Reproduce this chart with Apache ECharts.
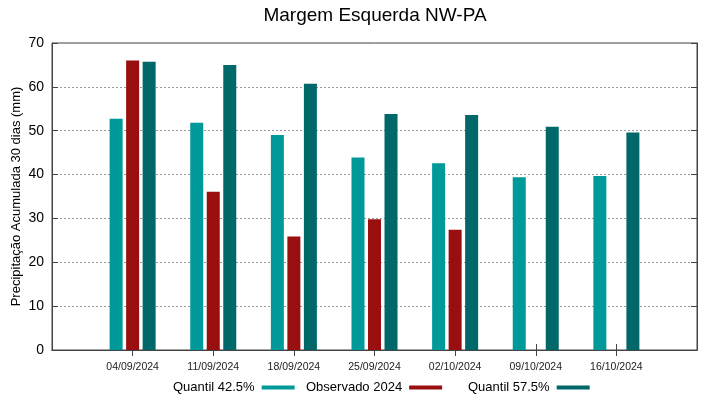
<!DOCTYPE html>
<html>
<head>
<meta charset="utf-8">
<script src="https://cdn.jsdelivr.net/npm/echarts@6/dist/echarts.min.js"></script>
<style>html,body{margin:0;padding:0;background:#fff}#c{width:719px;height:399px}</style>
</head>
<body>
<div id="c"></div>
<script>
const categories = ['', '04/09/2024', '11/09/2024', '18/09/2024', '25/09/2024', '02/10/2024', '09/10/2024', '16/10/2024', ''];
const quantil425 = [null, 52.7, 51.8, 49.0, 43.9, 42.6, 39.4, 39.7, null];
const observado2024 = [null, 66.0, 36.1, 25.9, 29.8, 27.4, null, null, null];
const quantil575 = [null, 65.7, 65.0, 60.7, 53.8, 53.6, 50.9, 49.6, null];
const yTicks = [0, 10, 20, 30, 40, 50, 60, 70];

const font = 'Liberation Sans, Arial, sans-serif';
const chart = echarts.init(document.getElementById('c'), null, {renderer: 'canvas'});
const legendBase = {
  top: 381, align: 'right', itemWidth: 33, itemHeight: 4, icon: 'rect',
  textStyle: {fontFamily: font, fontSize: 13, color: '#000', padding: [0, 2, 0, 0]},
  itemGap: 0, padding: 0, selectedMode: false
};
const showMid = function (i) { return i > 0 && i < categories.length - 1; };
chart.setOption({
  animation: false,
  title: {
    text: 'Margem Esquerda NW-PA', left: 370, top: 1, textAlign: 'center',
    textStyle: {fontFamily: font, fontSize: 19, fontWeight: 'normal', color: '#000'}
  },
  legend: [
    Object.assign({}, legendBase, {left: 173, data: ['Quantil 42.5%']}),
    Object.assign({}, legendBase, {left: 306, data: ['Observado 2024']}),
    Object.assign({}, legendBase, {left: 468, data: ['Quantil 57.5%']})
  ],
  grid: {left: 52, right: 22, top: 43, bottom: 49, show: true, borderColor: '#444', borderWidth: 1,
    containLabel: false, outerBoundsMode: 'none'},
  xAxis: [
    {
      type: 'category', data: categories, boundaryGap: false, position: 'bottom',
      axisLine: {show: true, lineStyle: {color: '#444'}},
      axisTick: {show: true, inside: true, length: 6, lineStyle: {color: '#444'}, interval: showMid},
      axisLabel: {fontFamily: font, fontSize: 10.5, color: '#222', margin: 12, interval: showMid},
      splitLine: {show: false}
    },
    {
      type: 'category', data: categories, boundaryGap: false, position: 'top',
      axisLine: {show: true, lineStyle: {color: '#444'}},
      axisTick: {show: true, inside: true, length: 6, lineStyle: {color: '#444'}, interval: showMid},
      axisLabel: {show: false}, splitLine: {show: false}
    }
  ],
  yAxis: [
    {
      type: 'value', min: yTicks[0], max: yTicks[yTicks.length - 1], interval: 10, position: 'left',
      name: 'Precipitação Acumulada 30 dias (mm)', nameLocation: 'middle', nameGap: 29, nameRotate: 90,
      nameMoveOverlap: false,
      nameTextStyle: {fontFamily: font, fontSize: 13, color: '#000'},
      axisLine: {show: true, lineStyle: {color: '#444'}},
      axisTick: {show: true, inside: true, length: 6, lineStyle: {color: '#444'}},
      axisLabel: {fontFamily: font, fontSize: 14, color: '#000', margin: 8},
      splitLine: {show: true, lineStyle: {type: [2, 2], color: '#999', width: 1}}
    },
    {
      type: 'value', min: yTicks[0], max: yTicks[yTicks.length - 1], interval: 10, position: 'right',
      axisLine: {show: true, lineStyle: {color: '#444'}},
      axisTick: {show: true, inside: true, length: 6, lineStyle: {color: '#444'}},
      axisLabel: {show: false}, splitLine: {show: false}
    }
  ],
  series: [
    {name: 'Quantil 42.5%', type: 'bar', data: quantil425, barWidth: 13, barGap: '27%',
      itemStyle: {color: '#009999'}},
    {name: 'Observado 2024', type: 'bar', data: observado2024, barWidth: 13, barGap: '27%',
      itemStyle: {color: '#990e0e'}},
    {name: 'Quantil 57.5%', type: 'bar', data: quantil575, barWidth: 13, barGap: '27%',
      itemStyle: {color: '#006868'}}
  ]
});
</script>
</body>
</html>
